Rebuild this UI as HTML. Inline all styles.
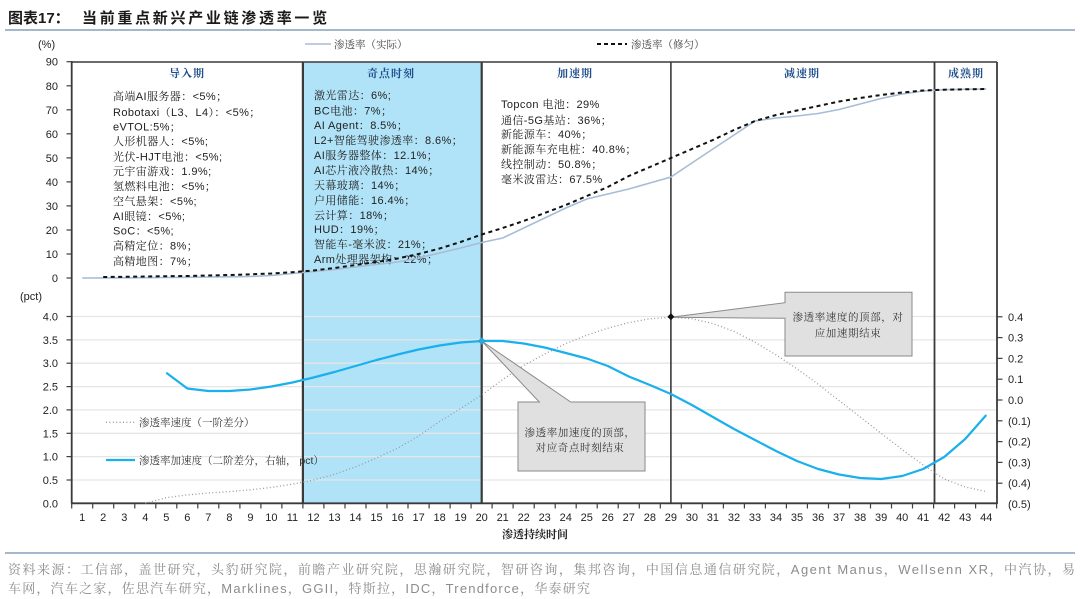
<!DOCTYPE html>
<html><head><meta charset="utf-8">
<style>
html,body{margin:0;padding:0;background:#fff;}
svg{display:block;}
text{font-family:"Liberation Sans","Noto Serif CJK SC",serif;}
.t{font-size:11px;fill:#222;}
.c{font-family:"Liberation Sans","Noto Serif CJK SC",serif;font-size:10.5px;fill:#222;}
.l{font-family:"Liberation Sans","Noto Serif CJK SC",serif;font-size:11px;fill:#222;letter-spacing:0.4px;}
.ph{font-family:"Liberation Serif","Noto Serif CJK SC",serif;font-size:11px;font-weight:bold;fill:#1f4e8c;letter-spacing:1px;}
</style></head>
<body>
<svg width="1080" height="599" viewBox="0 0 1080 599" xmlns="http://www.w3.org/2000/svg">
<!-- Title -->
<text x="8" y="23" style="font-family:'Liberation Sans','Noto Sans CJK SC',sans-serif;font-size:15px;font-weight:bold;fill:#1a1a1a;">图表17：</text>
<text x="82" y="23" style="font-family:'Liberation Sans','Noto Sans CJK SC',sans-serif;font-size:15px;font-weight:bold;fill:#1a1a1a;letter-spacing:2.7px;">当前重点新兴产业链渗透率一览</text>
<line x1="5" y1="30" x2="1075" y2="30" stroke="#a3b8cc" stroke-width="2"/>

<!-- blue region -->
<rect x="302.9" y="62" width="178.8" height="441.3" fill="#b0e3f7"/>

<!-- lower gridlines -->
<g stroke="#e6e6e6" stroke-width="1.3">
<line x1="71.7" y1="316.5" x2="997" y2="316.5"/>
<line x1="71.7" y1="339.9" x2="997" y2="339.9"/>
<line x1="71.7" y1="363.2" x2="997" y2="363.2"/>
<line x1="71.7" y1="386.6" x2="997" y2="386.6"/>
<line x1="71.7" y1="409.9" x2="997" y2="409.9"/>
<line x1="71.7" y1="433.3" x2="997" y2="433.3"/>
<line x1="71.7" y1="456.6" x2="997" y2="456.6"/>
<line x1="71.7" y1="480" x2="997" y2="480"/>
</g>

<!-- Legends top -->
<line x1="305" y1="44" x2="331" y2="44" stroke="#a7bcd6" stroke-width="1.5"/>
<text x="334" y="48" class="c" style="fill:#444;">渗透率（实际）</text>
<line x1="597" y1="44" x2="627" y2="44" stroke="#111" stroke-width="2" stroke-dasharray="4,3"/>
<text x="631" y="48" class="c" style="fill:#444;">渗透率（修匀）</text>

<text x="38" y="48" class="t">(%)</text>
<text x="20" y="300" class="t">(pct)</text>

<!-- y labels -->
<g class="t" text-anchor="end">
<text x="58" y="65.7">90</text>
<text x="58" y="89.8">80</text>
<text x="58" y="113.8">70</text>
<text x="58" y="137.8">60</text>
<text x="58" y="161.9">50</text>
<text x="58" y="185.9">40</text>
<text x="58" y="209.9">30</text>
<text x="58" y="234">20</text>
<text x="58" y="258">10</text>
<text x="58" y="282">0</text>
<text x="58" y="320.5">4.0</text>
<text x="58" y="343.9">3.5</text>
<text x="58" y="367.2">3.0</text>
<text x="58" y="390.6">2.5</text>
<text x="58" y="413.9">2.0</text>
<text x="58" y="437.3">1.5</text>
<text x="58" y="460.6">1.0</text>
<text x="58" y="484">0.5</text>
<text x="58" y="507.3">0.0</text>
</g>
<g class="t">
<text x="1008" y="320.8">0.4</text>
<text x="1008" y="341.6">0.3</text>
<text x="1008" y="362.4">0.2</text>
<text x="1008" y="383.2">0.1</text>
<text x="1008" y="404">0.0</text>
<text x="1008" y="424.8">(0.1)</text>
<text x="1008" y="445.6">(0.2)</text>
<text x="1008" y="466.4">(0.3)</text>
<text x="1008" y="487.2">(0.4)</text>
<text x="1008" y="508">(0.5)</text>
</g>

<!-- axis ticks -->
<g stroke="#404040" stroke-width="1.2">
<line x1="66.5" y1="61.7" x2="71.7" y2="61.7"/><line x1="66.5" y1="85.8" x2="71.7" y2="85.8"/>
<line x1="66.5" y1="109.8" x2="71.7" y2="109.8"/><line x1="66.5" y1="133.8" x2="71.7" y2="133.8"/>
<line x1="66.5" y1="157.9" x2="71.7" y2="157.9"/><line x1="66.5" y1="181.9" x2="71.7" y2="181.9"/>
<line x1="66.5" y1="205.9" x2="71.7" y2="205.9"/><line x1="66.5" y1="230" x2="71.7" y2="230"/>
<line x1="66.5" y1="254" x2="71.7" y2="254"/><line x1="66.5" y1="278" x2="71.7" y2="278"/>
<line x1="66.5" y1="316.5" x2="71.7" y2="316.5"/><line x1="66.5" y1="339.9" x2="71.7" y2="339.9"/>
<line x1="66.5" y1="363.2" x2="71.7" y2="363.2"/><line x1="66.5" y1="386.6" x2="71.7" y2="386.6"/>
<line x1="66.5" y1="409.9" x2="71.7" y2="409.9"/><line x1="66.5" y1="433.3" x2="71.7" y2="433.3"/>
<line x1="66.5" y1="456.6" x2="71.7" y2="456.6"/><line x1="66.5" y1="480" x2="71.7" y2="480"/>
<line x1="997" y1="316.8" x2="1002.5" y2="316.8"/><line x1="997" y1="337.6" x2="1002.5" y2="337.6"/>
<line x1="997" y1="358.4" x2="1002.5" y2="358.4"/><line x1="997" y1="379.2" x2="1002.5" y2="379.2"/>
<line x1="997" y1="400" x2="1002.5" y2="400"/><line x1="997" y1="420.8" x2="1002.5" y2="420.8"/>
<line x1="997" y1="441.6" x2="1002.5" y2="441.6"/><line x1="997" y1="462.4" x2="1002.5" y2="462.4"/>
<line x1="997" y1="483.2" x2="1002.5" y2="483.2"/>
</g>
<!-- x ticks -->
<g stroke="#404040" stroke-width="1.2">
<line x1="71.7" y1="503" x2="71.7" y2="508.5"/><line x1="92.7" y1="503" x2="92.7" y2="508.5"/><line x1="113.7" y1="503" x2="113.7" y2="508.5"/><line x1="134.8" y1="503" x2="134.8" y2="508.5"/><line x1="155.8" y1="503" x2="155.8" y2="508.5"/><line x1="176.8" y1="503" x2="176.8" y2="508.5"/><line x1="197.8" y1="503" x2="197.8" y2="508.5"/><line x1="218.8" y1="503" x2="218.8" y2="508.5"/><line x1="239.9" y1="503" x2="239.9" y2="508.5"/><line x1="260.9" y1="503" x2="260.9" y2="508.5"/><line x1="281.9" y1="503" x2="281.9" y2="508.5"/><line x1="302.9" y1="503" x2="302.9" y2="508.5"/><line x1="323.9" y1="503" x2="323.9" y2="508.5"/><line x1="345" y1="503" x2="345" y2="508.5"/><line x1="366" y1="503" x2="366" y2="508.5"/><line x1="387" y1="503" x2="387" y2="508.5"/><line x1="408" y1="503" x2="408" y2="508.5"/><line x1="429.1" y1="503" x2="429.1" y2="508.5"/><line x1="450.1" y1="503" x2="450.1" y2="508.5"/><line x1="471.1" y1="503" x2="471.1" y2="508.5"/><line x1="492.1" y1="503" x2="492.1" y2="508.5"/><line x1="513.1" y1="503" x2="513.1" y2="508.5"/><line x1="534.2" y1="503" x2="534.2" y2="508.5"/><line x1="555.2" y1="503" x2="555.2" y2="508.5"/><line x1="576.2" y1="503" x2="576.2" y2="508.5"/><line x1="597.2" y1="503" x2="597.2" y2="508.5"/><line x1="618.2" y1="503" x2="618.2" y2="508.5"/><line x1="639.3" y1="503" x2="639.3" y2="508.5"/><line x1="660.3" y1="503" x2="660.3" y2="508.5"/><line x1="681.3" y1="503" x2="681.3" y2="508.5"/><line x1="702.3" y1="503" x2="702.3" y2="508.5"/><line x1="723.4" y1="503" x2="723.4" y2="508.5"/><line x1="744.4" y1="503" x2="744.4" y2="508.5"/><line x1="765.4" y1="503" x2="765.4" y2="508.5"/><line x1="786.4" y1="503" x2="786.4" y2="508.5"/><line x1="807.4" y1="503" x2="807.4" y2="508.5"/><line x1="828.5" y1="503" x2="828.5" y2="508.5"/><line x1="849.5" y1="503" x2="849.5" y2="508.5"/><line x1="870.5" y1="503" x2="870.5" y2="508.5"/><line x1="891.5" y1="503" x2="891.5" y2="508.5"/><line x1="912.5" y1="503" x2="912.5" y2="508.5"/><line x1="933.6" y1="503" x2="933.6" y2="508.5"/><line x1="954.6" y1="503" x2="954.6" y2="508.5"/><line x1="975.6" y1="503" x2="975.6" y2="508.5"/><line x1="996.6" y1="503" x2="996.6" y2="508.5"/>
</g>
<g class="t" text-anchor="middle">
<text x="82.2" y="521">1</text><text x="103.2" y="521">2</text><text x="124.3" y="521">3</text><text x="145.3" y="521">4</text><text x="166.3" y="521">5</text><text x="187.3" y="521">6</text><text x="208.3" y="521">7</text><text x="229.4" y="521">8</text><text x="250.4" y="521">9</text><text x="271.4" y="521">10</text><text x="292.4" y="521">11</text><text x="313.5" y="521">12</text><text x="334.5" y="521">13</text><text x="355.5" y="521">14</text><text x="376.5" y="521">15</text><text x="397.6" y="521">16</text><text x="418.6" y="521">17</text><text x="439.6" y="521">18</text><text x="460.6" y="521">19</text><text x="481.7" y="521">20</text><text x="502.7" y="521">21</text><text x="523.7" y="521">22</text><text x="544.7" y="521">23</text><text x="565.8" y="521">24</text><text x="586.8" y="521">25</text><text x="607.8" y="521">26</text><text x="628.8" y="521">27</text><text x="649.9" y="521">28</text><text x="670.9" y="521">29</text><text x="691.9" y="521">30</text><text x="712.9" y="521">31</text><text x="734" y="521">32</text><text x="755" y="521">33</text><text x="776" y="521">34</text><text x="797" y="521">35</text><text x="818.1" y="521">36</text><text x="839.1" y="521">37</text><text x="860.1" y="521">38</text><text x="881.1" y="521">39</text><text x="902.2" y="521">40</text><text x="923.2" y="521">41</text><text x="944.2" y="521">42</text><text x="965.2" y="521">43</text><text x="986.3" y="521">44</text>
</g>
<text x="535" y="538" text-anchor="middle" style="font-family:'Liberation Sans','Noto Serif CJK SC',serif;font-size:11px;font-weight:bold;fill:#222;">渗透持续时间</text>

<!-- phase labels -->
<text x="187" y="77" text-anchor="middle" class="ph">导入期</text>
<text x="391" y="77" text-anchor="middle" class="ph">奇点时刻</text>
<text x="575" y="77" text-anchor="middle" class="ph">加速期</text>
<text x="802" y="77" text-anchor="middle" class="ph">减速期</text>
<text x="966" y="77" text-anchor="middle" class="ph">成熟期</text>

<!-- Left block -->
<g class="l">
<text x="113" y="100">高端AI服务器：&lt;5%；</text>
<text x="113" y="116">Robotaxi（L3、L4）：&lt;5%；</text>
<text x="113" y="130.5">eVTOL:5%；</text>
<text x="113" y="145">人形机器人：&lt;5%;</text>
<text x="113" y="160.5">光伏-HJT电池：&lt;5%;</text>
<text x="113" y="175">元宇宙游戏：1.9%;</text>
<text x="113" y="190">氢燃料电池：&lt;5%；</text>
<text x="113" y="205">空气悬架：&lt;5%;</text>
<text x="113" y="220">AI眼镜：&lt;5%;</text>
<text x="113" y="234.5">SoC：&lt;5%;</text>
<text x="113" y="249.5">高精定位：8%；</text>
<text x="113" y="265">高精地图：7%；</text>
</g>
<!-- middle block -->
<g class="l">
<text x="314" y="99">激光雷达：6%;</text>
<text x="314" y="114.5">BC电池：7%；</text>
<text x="314" y="129">AI Agent：8.5%；</text>
<text x="314" y="144">L2+智能驾驶渗透率：8.6%；</text>
<text x="314" y="159">AI服务器整体：12.1%；</text>
<text x="314" y="174">AI芯片液冷散热：14%；</text>
<text x="314" y="189">天幕玻璃：14%；</text>
<text x="314" y="204">户用储能：16.4%；</text>
<text x="314" y="219">云计算：18%；</text>
<text x="314" y="233">HUD：19%；</text>
<text x="314" y="248">智能车-毫米波：21%；</text>
<text x="314" y="263">Arm处理器架构：22%；</text>
</g>
<!-- right block -->
<g class="l">
<text x="501" y="108">Topcon 电池：29%</text>
<text x="501" y="124">通信-5G基站：36%；</text>
<text x="501" y="138">新能源车：40%；</text>
<text x="501" y="153">新能源车充电桩：40.8%；</text>
<text x="501" y="168">线控制动：50.8%；</text>
<text x="501" y="183">毫米波雷达：67.5%</text>
</g>

<!-- phase lines & frame -->
<g stroke="#3a3a3a">
<line x1="302.9" y1="62" x2="302.9" y2="503.3" stroke-width="2.2"/>
<line x1="481.7" y1="62" x2="481.7" y2="503.3" stroke-width="2.2"/>
<line x1="670.9" y1="62" x2="670.9" y2="503.3" stroke-width="1.6"/>
<line x1="934.5" y1="62" x2="934.5" y2="503.3" stroke-width="1.8"/>
<line x1="71.7" y1="62" x2="997" y2="62" stroke-width="1.6"/>
<line x1="71.7" y1="61" x2="71.7" y2="503.3" stroke-width="1.8"/>
<line x1="997" y1="62" x2="997" y2="504" stroke-width="1.8"/>
<line x1="71" y1="503.3" x2="997.5" y2="503.3" stroke-width="1.8"/>
</g>

<!-- actual penetration -->
<polyline fill="none" stroke="#a7bcd6" stroke-width="1.6" points="82.2,278 103.2,277.9 124.3,277.8 145.3,277.7 166.3,277.5 187.3,277.3 208.3,277 229.4,276.8 250.4,276.5 271.4,275.5 292.4,273.5 313.5,271.5 334.5,269.5 355.5,267 376.5,264.5 397.6,262 418.6,258 439.6,253 460.6,248 481.7,242.5 502.7,238 523.7,228 544.7,218 565.8,208 586.8,199 607.8,194 628.8,189 649.9,183 670.9,177 691.9,163 712.9,149 734,135 755,121 776,118 797,116 818.1,113.5 839.1,109.5 860.1,104 881.1,98.5 902.2,94 923.2,91 944.2,89.7 965.2,89.3 986.3,89"/>
<!-- smoothed penetration -->
<polyline fill="none" stroke="#111" stroke-width="2" stroke-dasharray="4,3.5" points="103.2,277 124.3,276.8 145.3,276.5 166.3,276.2 187.3,276 208.3,275.5 229.4,275 250.4,274.3 271.4,273.5 292.4,272.2 313.5,270.5 334.5,268 355.5,265 376.5,262 397.6,258.5 418.6,254 439.6,248.5 460.6,242 481.7,234.5 502.7,228 523.7,221 544.7,213 565.8,205 586.8,196 607.8,187 628.8,176 649.9,167 670.9,158 691.9,149 712.9,140 734,130 755,121 776,115 797,110.5 818.1,106 839.1,101.5 860.1,98 881.1,95 902.2,92.5 923.2,90.5 944.2,89.7 965.2,89.3 986.3,89"/>

<!-- velocity dotted -->
<polyline fill="none" stroke="#9a9a9a" stroke-width="1.3" stroke-dasharray="1,2.4" points="145.3,503.3 166.3,497.7 187.3,494.9 208.3,493 229.4,491.6 250.4,489.8 271.4,487.4 292.4,484.2 313.5,480 334.5,474.3 355.5,466.9 376.5,458 397.6,448.2 418.6,436 439.6,421.6 460.6,408.5 481.7,395 502.7,379.5 523.7,365.5 544.7,353.9 565.8,343.6 586.8,335.2 607.8,328.2 628.8,322.6 649.9,318.8 670.9,317.2 691.9,318.8 712.9,323.5 734,331.4 755,342.2 776,354.8 797,368.8 818.1,384.2 839.1,400.6 860.1,416.9 881.1,433.3 902.2,449.6 923.2,465 944.2,479 965.2,487 986.3,491.6"/>
<!-- acceleration -->
<polyline fill="none" stroke="#19b0ec" stroke-width="2.2" stroke-linejoin="round" points="166.3,372.7 187.3,388.5 208.3,391 229.4,391 250.4,389.5 271.4,386.5 292.4,382.5 313.5,377.5 334.5,372 355.5,366 376.5,360 397.6,354.5 418.6,349.5 439.6,345.5 460.6,342.5 481.7,341 502.7,341 523.7,343.5 544.7,347.5 565.8,353 586.8,358.5 607.8,366 628.8,376.5 649.9,385 670.9,394 691.9,405 712.9,417 734,429 755,440 776,451 797,461 818.1,469 839.1,474.5 860.1,478 881.1,479 902.2,476 923.2,469 944.2,457 965.2,439 986.3,415"/>

<!-- callouts -->
<path d="M518,402 L539.3,402 L481.7,341 L570.7,402 L645,402 L645,471 L518,471 Z" fill="#e0e0e0" stroke="#8a8a8a" stroke-width="1"/>
<path d="M785,292.3 L912,292.3 L912,356 L785,356 L785,318.3 L671,317.3 L785,302.7 Z" fill="#e0e0e0" stroke="#8a8a8a" stroke-width="1"/>
<polygon points="481.7,337.5 485,341 481.7,344.5 478.4,341" fill="#19b0ec" stroke="#3a8fb0" stroke-width="0.6"/>
<polygon points="670.9,313.3 674.4,316.8 670.9,320.3 667.4,316.8" fill="#111"/>
<g class="c" text-anchor="middle" style="fill:#333;letter-spacing:0.6px;">
<text x="580" y="436">渗透率加速度的顶部，</text>
<text x="580" y="451">对应奇点时刻结束</text>
<text x="848" y="320.5">渗透率速度的顶部，对</text>
<text x="848" y="336.5">应加速期结束</text>
</g>

<!-- lower legend -->
<line x1="106" y1="422.3" x2="135" y2="422.3" stroke="#9a9a9a" stroke-width="1.3" stroke-dasharray="1,2.4"/>
<text x="139" y="426" class="c" style="fill:#333;">渗透率速度（一阶差分）</text>
<line x1="106" y1="460" x2="135" y2="460" stroke="#19b0ec" stroke-width="2.2"/>
<text x="139" y="464" class="c" style="fill:#333;">渗透率加速度（二阶差分，右轴， pct）</text>

<!-- source -->
<line x1="5" y1="553" x2="1075" y2="553" stroke="#a3b8cc" stroke-width="2"/>
<text x="8" y="574" textLength="1067" lengthAdjust="spacing" style="font-family:'Liberation Sans','Noto Serif CJK SC',serif;font-size:13px;fill:#8c8c8c;">资料来源：工信部，盖世研究，头豹研究院，前瞻产业研究院，思瀚研究院，智研咨询，集邦咨询，中国信息通信研究院，Agent Manus，Wellsenn XR，中汽协，易</text>
<text x="8" y="593" textLength="582" lengthAdjust="spacing" style="font-family:'Liberation Sans','Noto Serif CJK SC',serif;font-size:13px;fill:#8c8c8c;">车网，汽车之家，佐思汽车研究，Marklines，GGII，特斯拉，IDC，Trendforce，华泰研究</text>
</svg>
</body></html>
